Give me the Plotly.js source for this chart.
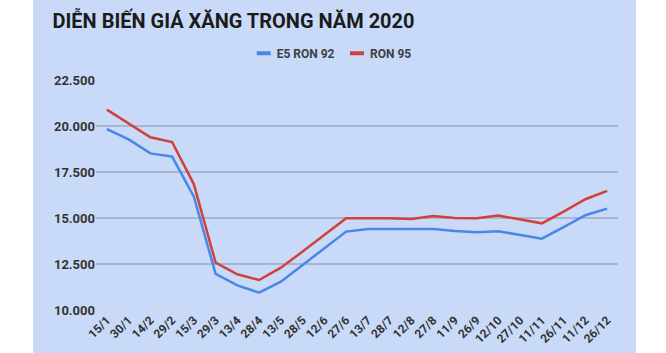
<!DOCTYPE html>
<html>
<head>
<meta charset="utf-8">
<script src="https://cdn.plot.ly/plotly-3.0.1.min.js"></script>
<style>html,body{margin:0;padding:0;background:#fff}#chart{width:666px;height:353px}</style>
</head>
<body>
<div id="chart"></div>
<script>
const categories = ["15/1","30/1","14/2","29/2","15/3","29/3","13/4","28/4","13/5","28/5","12/6","27/6","13/7","28/7","12/8","27/8","11/9","26/9","12/10","27/10","11/11","26/11","11/12","26/12"];
const e5Ron92 = [19830,19270,18510,18340,16160,11960,11340,10940,11540,12450,13370,14260,14400,14400,14400,14400,14290,14220,14280,14080,13880,14500,15150,15510];
const ron95   = [20890,20140,19390,19130,16830,12570,11940,11630,12300,13180,14100,14990,14990,14990,14940,15110,15000,14990,15130,14930,14710,15350,16020,16470];
const yTicks = [10000,12500,15000,17500,20000,22500];
const seriesNames = ["E5 RON 92","RON 95"];

const traces = [
  {x: categories, y: e5Ron92, name: seriesNames[0], type: "scatter", mode: "lines",
   line: {color: "#4a86e8", width: 2.5}},
  {x: categories, y: ron95, name: seriesNames[1], type: "scatter", mode: "lines",
   line: {color: "#d0413a", width: 2.5}}
];

const layout = {
  width: 666, height: 353,
  margin: {l: 96, r: 48, t: 80, b: 43},
  paper_bgcolor: "#ffffff",
  plot_bgcolor: "rgba(0,0,0,0)",
  separators: ",.",
  showlegend: true,
  title: {
    text: "DIỄN BIẾN GIÁ XĂNG TRONG NĂM 2020",
    xref: "container", yref: "container",
    x: 52.5/666, xanchor: "left",
    y: 1 - 21/353, yanchor: "middle",
    font: {family: "Roboto, sans-serif", size: 19.5, color: "#1b1b1b", weight: "bold"}
  },
  legend: {
    orientation: "h", x: (236.7-96)/522, xanchor: "left", y: (310-53.3)/230, yanchor: "middle",
    font: {family: "Roboto, sans-serif", size: 12, color: "#3c4043", weight: "bold"},
    bgcolor: "rgba(0,0,0,0)", entrywidth: 48.3, entrywidthmode: "pixels", traceorder: "normal"
  },
  xaxis: {
    type: "category",
    range: [-0.5, categories.length - 0.5],
    showgrid: false, zeroline: false, showline: false,
    tickangle: -45, ticks: "",
    tickfont: {family: "Roboto, sans-serif", size: 12, color: "#333333", weight: "bold"},
    fixedrange: true
  },
  yaxis: {
    range: [10000, 22500],
    tickvals: yTicks,
    tickformat: ",.0f",
    showgrid: true, gridcolor: "#a6b5d1", gridwidth: 1.5,
    zeroline: false, showline: false, ticks: "",
    tickfont: {family: "Roboto, sans-serif", size: 13, color: "#333333", weight: "bold"},
    fixedrange: true
  },
  shapes: [{
    type: "rect", xref: "paper", yref: "paper", layer: "below",
    x0: (33-96)/522, x1: (636-96)/522, y0: (310-353)/230, y1: 310/230,
    fillcolor: "#c9daf8", line: {width: 0}
  }]
};

Plotly.newPlot("chart", traces, layout, {displayModeBar: false, staticPlot: true}).then(gd => {
  const t = gd.querySelector(".gtitle");
  if (t) { t.setAttribute("textLength", "362"); t.setAttribute("lengthAdjust", "spacingAndGlyphs"); }
  gd.querySelectorAll(".legendlines path").forEach(p => {
    p.setAttribute("d", "M20,0h14");
    p.style.strokeWidth = "4px";
  });
});
</script>
</body>
</html>
